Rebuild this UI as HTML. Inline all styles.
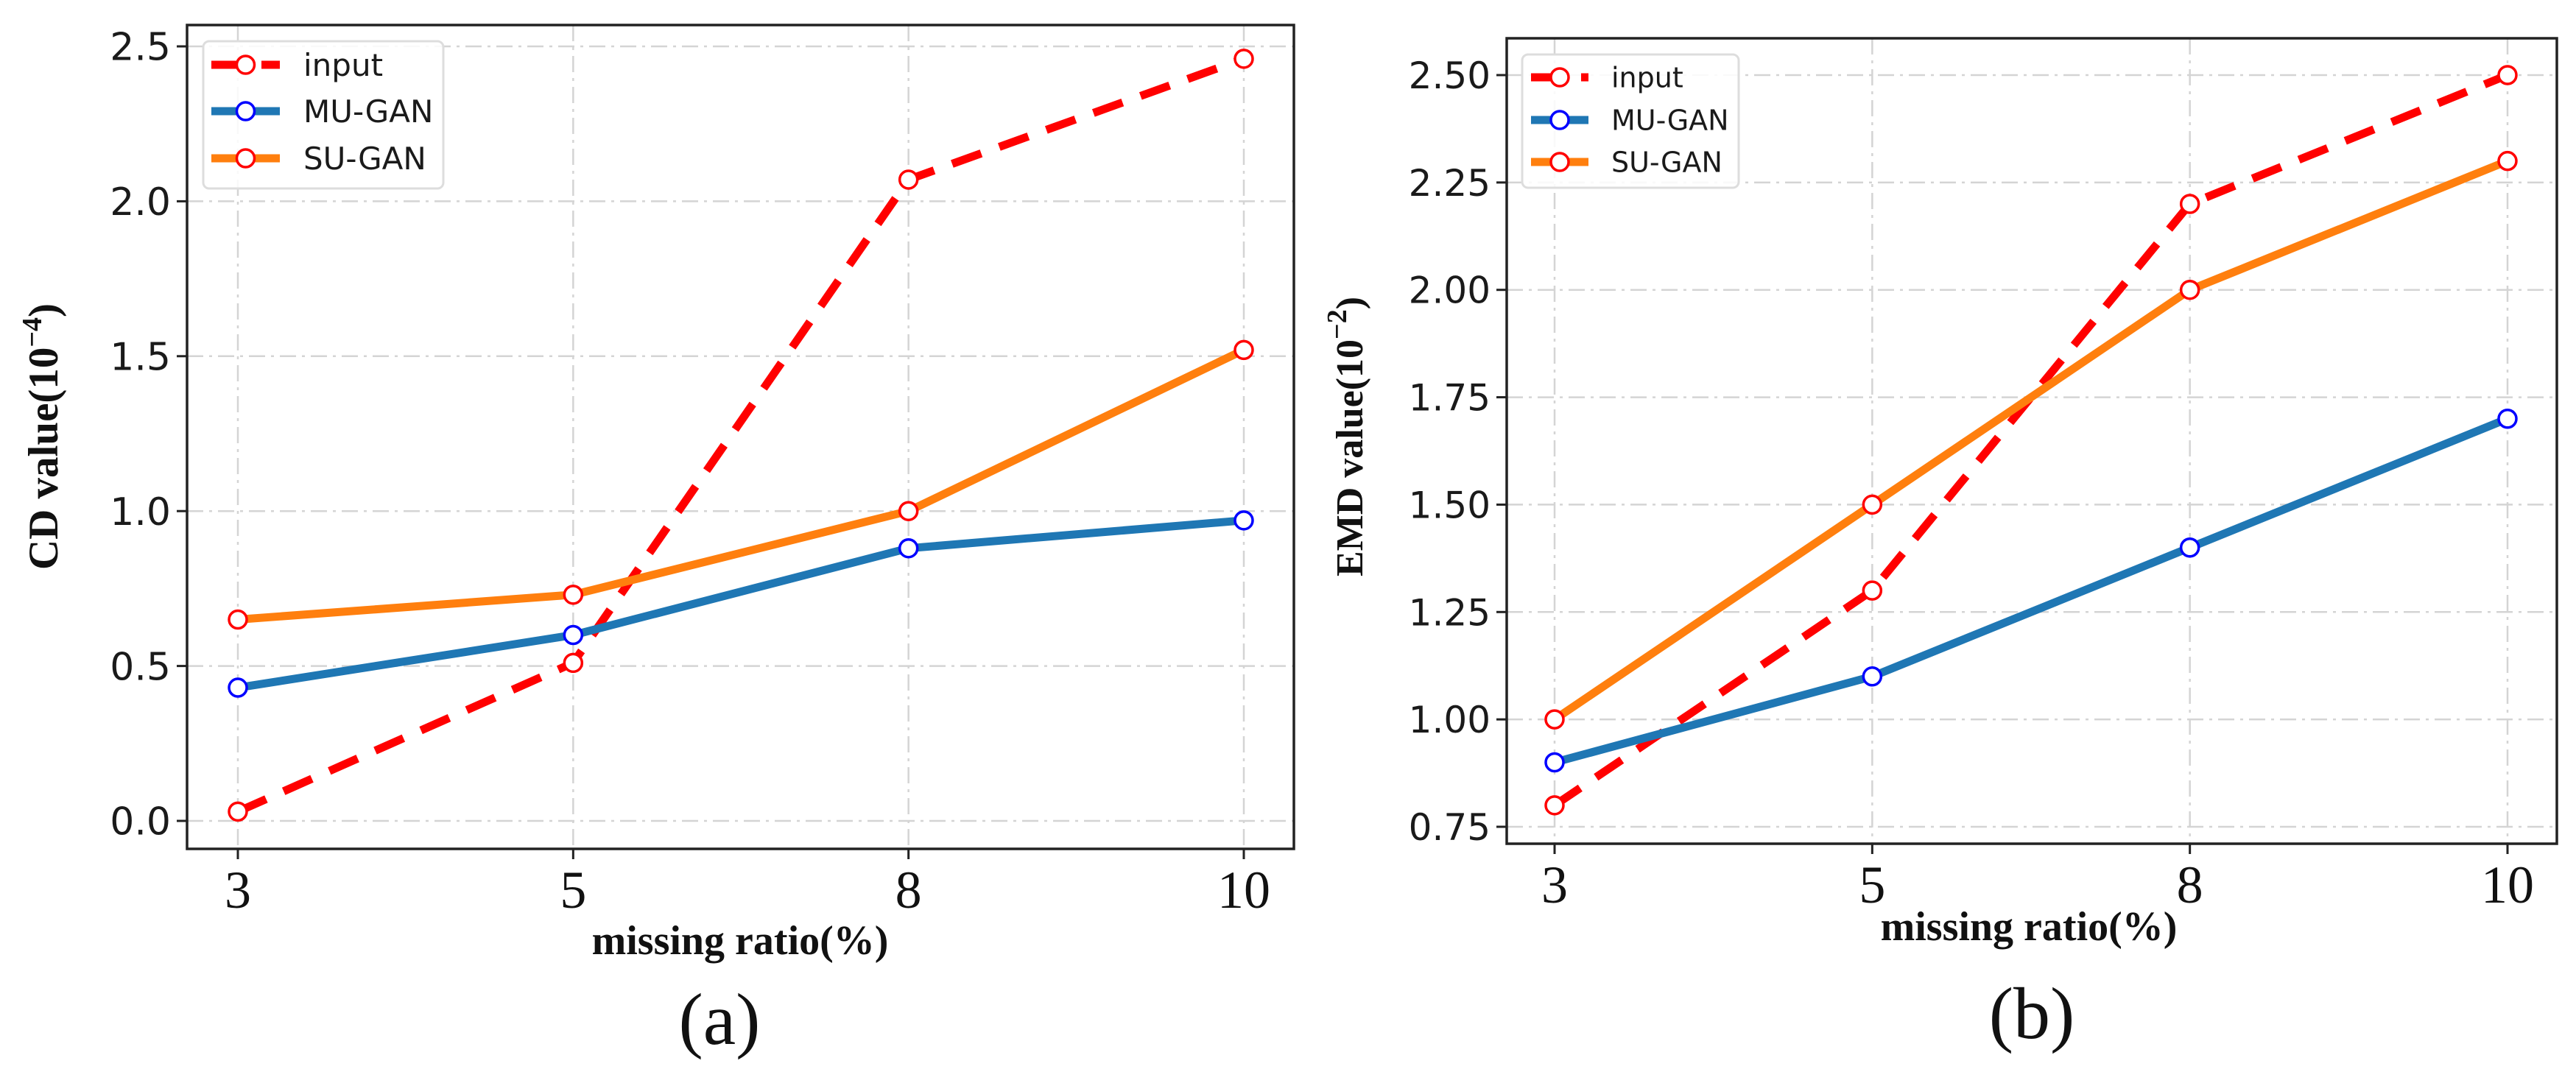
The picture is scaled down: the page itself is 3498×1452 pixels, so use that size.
<!DOCTYPE html>
<html><head><meta charset="utf-8">
<style>
html,body{margin:0;padding:0;background:#fff;}
svg{display:block;}
.tick{font-family:"DejaVu Sans","Liberation Sans",sans-serif;fill:#1a1a1a;}
.serif{font-family:"Liberation Serif",serif;fill:#111;}
</style></head>
<body>
<svg id="fig" width="3498" height="1452" viewBox="0 0 3498 1452" xmlns="http://www.w3.org/2000/svg"></svg>
<script>
const categories = ["3","5","8","10"];
const seriesNames = ["input","MU-GAN","SU-GAN"];
const cdInput = [0.03, 0.51, 2.07, 2.46];
const cdMU = [0.43, 0.60, 0.88, 0.97];
const cdSU = [0.65, 0.73, 1.00, 1.52];
const cdTicks = [0.0, 0.5, 1.0, 1.5, 2.0, 2.5];
const cdTickLabels = ["0.0","0.5","1.0","1.5","2.0","2.5"];
const emdInput = [0.80, 1.30, 2.20, 2.50];
const emdMU = [0.90, 1.10, 1.40, 1.70];
const emdSU = [1.00, 1.50, 2.00, 2.30];
const emdTicks = [0.75, 1.00, 1.25, 1.50, 1.75, 2.00, 2.25, 2.50];
const emdTickLabels = ["0.75","1.00","1.25","1.50","1.75","2.00","2.25","2.50"];

const NS = "http://www.w3.org/2000/svg";
const svg = document.getElementById("fig");
function mk(tag, attrs, parent){
  const e = document.createElementNS(NS, tag);
  for (const k in attrs) e.setAttribute(k, attrs[k]);
  (parent||svg).appendChild(e);
  return e;
}

const panels = [
 {id:"a", left:254, right:1757, top:34, bottom:1153, x0:323, x1:1689, v0:0, y0:1115, v1:2.5, y1:63,
  ticks:cdTicks, labels:cdTickLabels, data:[cdInput,cdMU,cdSU], tickFs:52,
  ylabel:"CD value(10", exp:"−4", ylfs:57, ylx:78, yly:593, xlx:1005, xly:1296, cap:"(a)", capx:977, capy:1418,
  leg:{x:276,y:56,w:326,h:200,ys:[88,151,215],l0:287,l1:380,tx:412,fs:42}},
 {id:"b", left:2046, right:3472, top:52, bottom:1146, x0:2111, x1:3405, v0:0.75, y0:1123, v1:2.5, y1:102,
  ticks:emdTicks, labels:emdTickLabels, data:[emdInput,emdMU,emdSU], tickFs:50,
  ylabel:"EMD value(10", exp:"−2", ylfs:52, ylx:1850, yly:593, xlx:2755, xly:1277, cap:"(b)", capx:2759, capy:1410,
  leg:{x:2067,y:74,w:294,h:181,ys:[105,163,220],l0:2079,l1:2157,tx:2188,fs:38}}
];
const colors = ["#ff0000","#1f77b4","#ff7f0e"];
const edges = ["#ff0000","#0000ff","#ff0000"];

panels.forEach(p=>{
  const g = mk("g",{});
  
  
  const xs = i => p.x0 + (p.x1-p.x0)*i/(categories.length-1);
  const ys = v => p.y0 + (v-p.v0)*(p.y1-p.y0)/(p.v1-p.v0);
  p.ticks.forEach((t,i)=>{
    const gl = mk("line",{x1:p.left,x2:p.right,y1:ys(t),y2:ys(t),stroke:"#d4d4d4","stroke-width":2.5,"stroke-dasharray":"22,8,4,8"},g);
    
    
  });
  categories.forEach((c,i)=>{
    const gl = mk("line",{x1:xs(i),x2:xs(i),y1:p.top,y2:p.bottom,stroke:"#d4d4d4","stroke-width":2.5,"stroke-dasharray":"22,8,4,8"},g);
    
    
  });
  const fr = mk("rect",{x:p.left,y:p.top,width:p.right-p.left,height:p.bottom-p.top,fill:"none",stroke:"#222","stroke-width":3.5},g);
  
  
  p.ticks.forEach((t,i)=>{
    mk("line",{x1:p.left-14,x2:p.left,y1:ys(t),y2:ys(t),stroke:"#222","stroke-width":3},g);
    const tx = mk("text",{x:p.left-22,y:ys(t)+p.tickFs*0.36,"text-anchor":"end","font-size":p.tickFs,class:"tick"},g);
    tx.textContent = p.labels[i];
    
    
  });
  categories.forEach((c,i)=>{
    mk("line",{x1:xs(i),x2:xs(i),y1:p.bottom,y2:p.bottom+14,stroke:"#222","stroke-width":3},g);
    const tx = mk("text",{x:xs(i),y:p.bottom+80,"text-anchor":"middle","font-size":72,class:"serif"},g);
    tx.textContent = c;
    
    
  });
  p.data.forEach((arr,si)=>{
    const pts = arr.map((v,i)=>xs(i)+","+ys(v)).join(" ");
    const attrs = {points:pts,fill:"none",stroke:colors[si],"stroke-width":11,"stroke-linejoin":"round"};
    if(si===0) attrs["stroke-dasharray"]="42,26";
    const pl = mk("polyline",attrs,g);
    
    
  });
  p.data.forEach((arr,si)=>{
    arr.forEach((v,i)=>{
      const c = mk("circle",{cx:xs(i),cy:ys(v),r:12,fill:"#fff",stroke:edges[si],"stroke-width":3.5},g);
      
      
    });
  });
  const L = p.leg;
  const lg = mk("g",{},g);
  
  
  mk("rect",{x:L.x,y:L.y,width:L.w,height:L.h,rx:8,fill:"#fff","fill-opacity":0.85,stroke:"#ddd","stroke-width":3},lg);
  seriesNames.forEach((n,si)=>{
    const e = mk("g",{},lg);
    
    
    const la = {x1:L.l0,x2:L.l1,y1:L.ys[si],y2:L.ys[si],stroke:colors[si],"stroke-width":11};
    if(si===0) la["stroke-dasharray"]="42,26";
    mk("line",la,e);
    mk("circle",{cx:(L.l0+L.l1)/2,cy:L.ys[si],r:12,fill:"#fff",stroke:edges[si],"stroke-width":3.5},e);
    const t = mk("text",{x:L.tx,y:L.ys[si]+L.fs*0.36,"font-size":L.fs,class:"tick"},e);
    t.textContent = n;
  });
  const yl = mk("text",{x:0,y:0,transform:`translate(${p.ylx},${p.yly}) rotate(-90)`,"text-anchor":"middle","font-size":p.ylfs,"font-weight":"bold",class:"serif"},g);
  
  
  yl.appendChild(document.createTextNode(p.ylabel));
  const sup = document.createElementNS(NS,"tspan");
  sup.setAttribute("dy","-22"); sup.setAttribute("font-size","38");
  sup.textContent = p.exp; yl.appendChild(sup);
  const cl = document.createElementNS(NS,"tspan");
  cl.setAttribute("dy","22"); cl.textContent = ")"; yl.appendChild(cl);
  const xl = mk("text",{x:p.xlx,y:p.xly,"text-anchor":"middle","font-size":56,"font-weight":"bold",class:"serif"},g);
  xl.textContent = "missing ratio(%)";
  
  
  const cp = mk("text",{x:p.capx,y:p.capy,"text-anchor":"middle","font-size":100,class:"serif"},g);
  cp.textContent = p.cap;
  
  
});
</script>
</body></html>
